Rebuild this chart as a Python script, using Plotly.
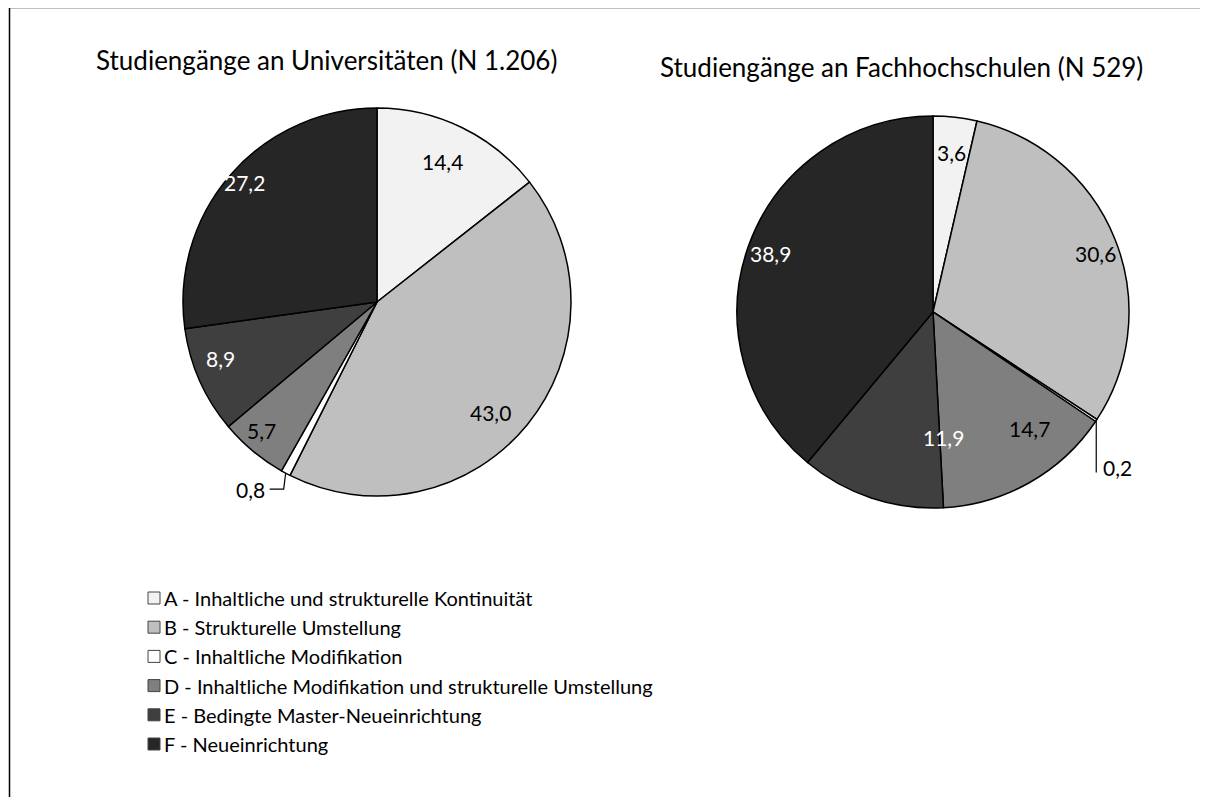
import math
import plotly.graph_objects as go

# Kategorien und Anteile (in %)
categories = ['A - Inhaltliche und strukturelle Kontinuität',
              'B - Strukturelle Umstellung',
              'C - Inhaltliche Modifikation',
              'D - Inhaltliche Modifikation und strukturelle Umstellung',
              'E - Bedingte Master-Neueinrichtung',
              'F - Neueinrichtung']
uni_values = [14.4, 43.0, 0.8, 5.7, 8.9, 27.2]
fh_values = [3.6, 30.6, 0.2, 14.7, 11.9, 38.9]
uni_title = 'Studiengänge an Universitäten (N 1.206)'
fh_title = 'Studiengänge an Fachhochschulen (N 529)'

# Styling
colors = ['#f2f2f2', '#bfbfbf', '#ffffff', '#7f7f7f', '#3f3f3f', '#262626']
text_colors = ['#000', '#000', '#000', '#000', '#fff', '#fff']
FONT = 'Lato, Calibri, sans-serif'
W, H = 1208, 797
OFF = 8  # the page body adds an 8px margin, positions below are in screen pixels

# Pie geometry in pixels: centre x, centre y, radius
uni_geo = (377, 302, 194)
fh_geo = (933, 312, 196)
# label placement per slice: (radius fraction, angle nudge in degrees); None = outside label
uni_lbl = [(0.80, -1), (0.82, 5), None, (0.89, 2), (0.86, 4), (0.92, 1)]
fh_lbl = [(0.82, 0), (0.88, 2), None, (0.77, -10), (0.64, -23), (0.88, 0)]


def px(x):
    return (x - OFF) / W


def py(y):
    return 1 - (y - OFF) / H


def fmt(v):
    return f'{v:.1f}'.replace('.', ',')


def domain(geo):
    cx, cy, r = geo
    return dict(x=[px(cx - r), px(cx + r)], y=[py(cy + r), py(cy - r)])


def point(geo, angle, frac):
    cx, cy, r = geo
    a = math.radians(angle)
    return cx + frac * r * math.sin(a), cy - frac * r * math.cos(a)


def label(x, y, text, size, color='#000', xanchor='center'):
    return dict(x=px(x), y=py(y), xref='paper', yref='paper', text=text,
                showarrow=False, xanchor=xanchor, yanchor='middle',
                font=dict(size=size, color=color, family=FONT))


fig = go.Figure()
annotations = []
shapes = []


def add_pie(values, geo, lbl, title, title_pos, outside):
    fig.add_trace(go.Pie(
        labels=categories, values=values, sort=False, direction='clockwise',
        rotation=0, textinfo='none', hoverinfo='label+value',
        marker=dict(colors=colors, line=dict(color='#000', width=1.5)),
        domain=domain(geo), showlegend=False,
    ))
    total = sum(values)
    cum = 0
    for i, v in enumerate(values):
        mid = 360 * (cum + v / 2) / total
        cum += v
        if lbl[i] is not None:
            frac, nudge = lbl[i]
            x, y = point(geo, mid + nudge, frac)
            annotations.append(label(x, y, fmt(v), 21, text_colors[i]))
        else:
            sx, sy = point(geo, mid, 1.0)
            dx, dy, hx, side = outside
            ex, ey = sx + dx, sy + dy
            path = f'M {px(sx)} {py(sy)} L {px(ex)} {py(ey)}'
            if hx:
                path += f' L {px(ex + hx)} {py(ey)}'
            shapes.append(dict(type='path', path=path, xref='paper', yref='paper',
                               line=dict(color='#000', width=1.2)))
            tx = ex + hx + (-3 if side == 'right' else 5)
            ty = ey if hx else ey - 5
            annotations.append(label(tx, ty, fmt(v), 21, xanchor=side))
    annotations.append(label(title_pos[0], title_pos[1], title, 26))


add_pie(uni_values, uni_geo, uni_lbl, uni_title, (326, 60), (-2, 16, -14, 'right'))
add_pie(fh_values, fh_geo, fh_lbl, fh_title, (901, 67), (0, 52, 0, 'left'))

# Legend (manual, to match the spacing of the original)
leg_x, leg_y, leg_step, box = 148, 598, 29.2, 12
for i, cat in enumerate(categories):
    yc = leg_y + i * leg_step
    shapes.append(dict(type='rect', xref='paper', yref='paper',
                       x0=px(leg_x), x1=px(leg_x + box),
                       y0=py(yc + box / 2), y1=py(yc - box / 2),
                       fillcolor=colors[i], line=dict(color='#444', width=1)))
    annotations.append(label(leg_x + box + 2, yc, cat, 20, xanchor='left'))

# Frame
shapes.append(dict(type='rect', xref='paper', yref='paper',
                   x0=px(9.5), x1=1.05, y0=-0.05, y1=py(7.5),
                   line=dict(color='#000', width=1.5)))

fig.update_layout(
    width=W, height=H,
    margin=dict(l=0, r=0, t=0, b=0),
    paper_bgcolor='white', plot_bgcolor='white',
    annotations=annotations, shapes=shapes,
)

fig.write_html('out.html')
